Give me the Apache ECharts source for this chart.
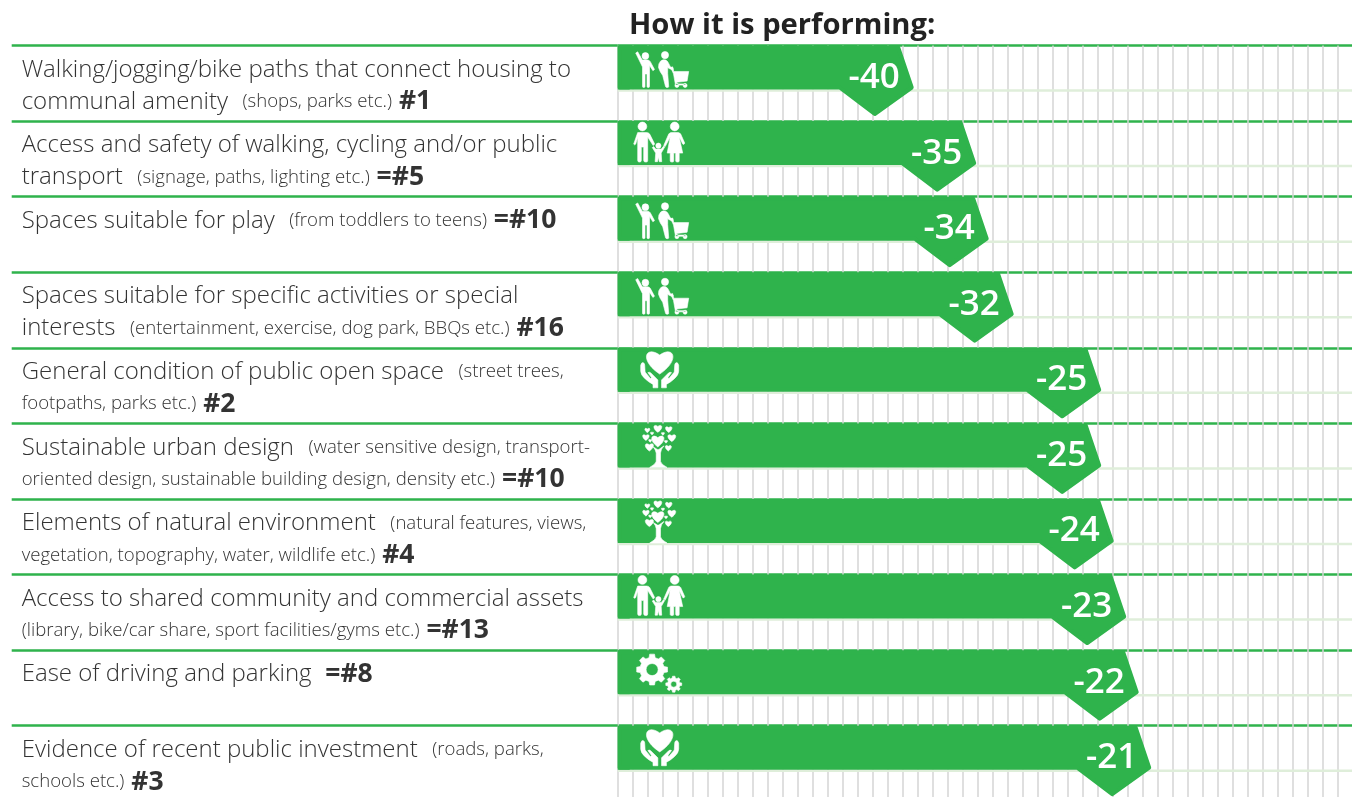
<!DOCTYPE html>
<html><head><meta charset="utf-8">
<style>html,body{margin:0;padding:0;background:#fff}#c{width:1352px;height:797px}</style>
<script src="https://cdn.jsdelivr.net/npm/echarts@6/dist/echarts.min.js"></script>
</head><body><div id="c"></div>
<script>
var titleText = 'How it is performing:';
var headlines = [
 'Walking/jogging/bike paths that connect housing to\ncommunal amenity',
 'Access and safety of walking, cycling and/or public\ntransport',
 'Spaces suitable for play',
 'Spaces suitable for specific activities or special\ninterests',
 'General condition of public open space',
 'Sustainable urban design',
 'Elements of natural environment',
 'Access to shared community and commercial assets',
 'Ease of driving and parking',
 'Evidence of recent public investment'
];
var notes = [
 '(shops, parks etc.)',
 '(signage, paths, lighting etc.)',
 '(from toddlers to teens)',
 '(entertainment, exercise, dog park, BBQs etc.)',
 '(street trees,\nfootpaths, parks etc.)',
 '(water sensitive design, transport-\noriented design, sustainable building design, density etc.)',
 '(natural features, views,\nvegetation, topography, water, wildlife etc.)',
 '(library, bike/car share, sport facilities/gyms etc.)',
 '',
 '(roads, parks,\nschools etc.)'
];
var ranks = ['#1','=#5','=#10','#16','#2','=#10','#4','=#13','=#8','#3'];
var performance = [-40,-35,-34,-32,-25,-25,-24,-23,-22,-21];
var iconNames = ['cart','family','cart','cart','hands','tree','tree','family','gears','hands'];

var GREEN = '#2fb34c';
function circle(x,y,r,hole){var s=hole?1:0;return 'M'+(x-r)+' '+y+'A'+r+' '+r+' 0 1 '+s+' '+(x+r)+' '+y+'A'+r+' '+r+' 0 1 '+s+' '+(x-r)+' '+y+'Z';}
function heart(x,y,s){return 'M'+x+' '+(y+.9*s)+'C'+(x+1.3*s)+' '+y+' '+(x+.9*s)+' '+(y-s)+' '+x+' '+(y-.35*s)+'C'+(x-.9*s)+' '+(y-s)+' '+(x-1.3*s)+' '+y+' '+x+' '+(y+.9*s)+'Z';}
function gear(cx,cy,R,r,hole,n){
  var d='',i,st=2*Math.PI/n;
  for(i=0;i<n;i++){
    var a=i*st;
    var pts=[[r,a-st*.32],[R,a-st*.2],[R,a+st*.2],[r,a+st*.32]];
    pts.forEach(function(p,j){d+=((i===0&&j===0)?'M':'L')+(cx+p[0]*Math.cos(p[1])).toFixed(2)+' '+(cy+p[0]*Math.sin(p[1])).toFixed(2);});
  }
  return d+'Z'+circle(cx,cy,hole,false);
}
var icons = {
 cart:{dx:18,dy:6,w:53,h:36,d:
  circle(9.7,4.6,3.4)+
  'M0 1.6L2 .4L6.6 8.6H12Q13.6 8.6 14.6 10.2L18.8 18L17.2 19.2L13.8 14V35Q13.8 36 12.6 36Q11.3 36 11.3 35V22.5H9.3V35Q9.3 36 8.1 36Q6.8 36 6.8 35V15.5Z'+
  circle(29.3,3.7,3.6)+
  'M25 9.5Q27.5 7.6 30 8.6Q32 9.6 33 12L34.6 15.2L37.6 17.2L36.8 18.6L33 16.8L32 16V22L33 35Q33 36 31.6 36Q30 36 29.8 35L27 24Q24 20 22.8 16Q22.6 12 25 9.5Z'+
  'M35 16L37 15.4L38 20H53L51.4 29.6L41 30.8L41.4 32.4H50V33.6H39.8L37.8 22.4Z'+
  circle(41.2,34,2)+circle(49.4,34,2)},
 family:{dx:16,dy:1,w:51,h:40,d:
  circle(8.7,4.4,4.4)+
  'M4 10.5H13Q15 10.5 16 12L21 22L19.5 23.5L14 15V38.5Q14 40 12.3 40Q10 40 10 38.5V25H7.6V38.5Q7.6 40 5.8 40Q4 40 4 38.5V15.5L2 22Q1 23.5 0 22Z'+
  circle(24.7,23.6,2.6)+
  'M20 24.5L22 27H27.5L30 24L31 25L27.5 31L28 39.6L25.6 39.6L24.7 35L23.8 39.6H21.4L22 31L18.6 25.5Z'+
  circle(41,4.4,4.4)+
  'M37.5 10.5H44.5Q46 10.5 47 12L51 21Q50.5 23 49 22L45.5 15L49 31H45.5V39Q45.5 40 44 40Q42 40 42 39V31H40V39Q40 40 38.5 40Q36.5 40 36.5 39V31H33.5L36.5 15L31.5 24.5L30 23.5L35 12Q36 10.5 37.5 10.5Z'},
 hands:{dx:23,dy:4,w:38,h:36,d:
  heart(19,8,15.5)+
  'M.5 13Q1.5 9.5 3 10.5Q4.4 11 4.4 13L4.8 20L10 26.5L11 25.5L7.5 20.5Q9 19.5 10.5 21L17.2 28V36H12.5V32.5Q8 30 5 27Q.5 23 .5 19Z'+
  'M37.5 13V19Q37.5 23 33 27Q30 30 25.5 32.5V36H20.8V28L27.5 21Q29 19.5 30.5 20.5L27 25.5L28 26.5L33.2 20L33.6 13Q33.6 11 35 10.5Q36.5 9.5 37.5 13Z'},
 tree:{dx:25,dy:2,w:33,h:42,d:
  heart(15,15.5,7.2)+heart(15,3.6,4.6)+heart(25.7,4.5,3.8)+heart(4.7,5.5,2.9)+heart(9.3,8.6,1.8)+heart(3.3,12.3,3.8)+
  heart(28.7,12.7,4.6)+heart(6.7,21.7,4.8)+heart(25.3,22.7,3.6)+heart(20,9,1.8)+heart(7.5,15.8,1.8)+heart(23,16.7,1.8)+
  'M10.5 22Q13 25 13.4 28V36Q13 39 7 42H24Q18 39 17.6 36V28Q18 24 21 21L16 24.5H14.5Z'},
 gears:{dx:19,dy:4,w:45,h:38,d:
  gear(15.5,15.5,15.5,12.2,6,8)+gear(37,30,8,6.2,3,8)}
};

var chart = echarts.init(document.getElementById('c'), null, {renderer:'canvas'});
function renderRow(params, api){
  var v=api.value(0), i=api.value(1);
  var p=api.coord([v,i]), band=api.size([0,1])[1];
  var cs=params.coordSys, x0=cs.x, x1=cs.x+cs.width, xv=p[0], t=p[1]-band/2;
  var ic=icons[iconNames[i]];
  return {type:'group',children:[
    {type:'line',shape:{x1:x0,y1:t+45,x2:x1,y2:t+45},style:{stroke:'#dfeeda',lineWidth:2.5}},
    {type:'rect',shape:{x:x0,y:t,width:12,height:44},style:{fill:GREEN}},
    {type:'polygon',shape:{points:[[x0+2,t+2],[xv-14.5,t+2],[xv-1,t+42],[xv-38,t+68.5],[xv-73,t+42],[x0+2,t+42]]},
      style:{fill:GREEN,stroke:GREEN,lineWidth:4,lineJoin:'round'}},
    {type:'path',shape:{pathData:ic.d,x:x0+ic.dx,y:t+ic.dy,width:ic.w,height:ic.h,layout:'cover'},style:{fill:'#fff',stroke:'#fff',lineWidth:.6}},
    {type:'text',x:xv-13,y:t+32.5,style:{text:String(performance[i]),fill:'#fff',fontFamily:'Open Sans',fontSize:35,fontWeight:600,align:'right',verticalAlign:'middle'}}
  ]};
}
chart.setOption({
  animation:false,
  title:{text:titleText,left:624,top:6,textStyle:{fontFamily:'Open Sans',fontSize:29.2,fontWeight:700,color:'#222'}},
  grid:{left:617.7,top:45.5,width:735,height:755.8,containLabel:false,outerBoundsMode:'none'},
  xAxis:{type:'value',min:-63.6,max:-4.8,interval:1.2,position:'top',
    axisLabel:{show:false},axisLine:{show:false},axisTick:{show:false},
    splitLine:{show:true,lineStyle:{color:'#d4d4d4',width:1.5}}},
  yAxis:{type:'category',inverse:true,data:headlines,
    axisLine:{show:false},
    axisTick:{show:true,interval:0,length:606,lineStyle:{color:GREEN,width:2.5}},
    splitLine:{show:true,interval:0,lineStyle:{color:GREEN,width:2.5}},
    axisLabel:{interval:0,align:'left',margin:596,hideOverlap:false,padding:[5,0,0,0],
      formatter:function(val,idx){
        var n=notes[idx], s='{m|'+val+'}';
        if(n){ s+= idx===7 ? '\n{n|'+n+'}' : '{n|   '+n+'}'; }
        s+='{r|'+(n?' ':'  ')+ranks[idx]+'}';
        if(s.indexOf('\n')<0) s+='\n{n| }';
        return s;
      },
      rich:{
        m:{fontFamily:'Open Sans',fontSize:24,fontWeight:300,color:'#333',lineHeight:32},
        n:{fontFamily:'Open Sans',fontSize:18.6,fontWeight:300,color:'#333',lineHeight:32},
        r:{fontFamily:'Open Sans',fontSize:26.5,fontWeight:700,color:'#333',lineHeight:32}
      }}},
  series:[{type:'custom',clip:false,renderItem:renderRow,
    encode:{x:0,y:1},
    data:performance.map(function(v,i){return [v,i];})}]
});
</script></body></html>
